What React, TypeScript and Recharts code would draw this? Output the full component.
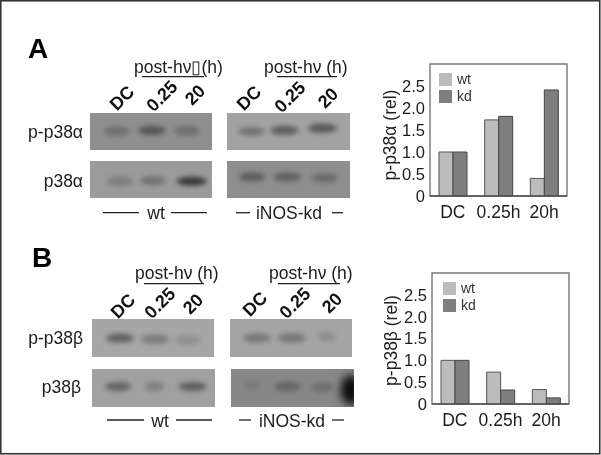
import React from "react";
import { BarChart, Bar, XAxis, YAxis, ReferenceArea, Legend, ScatterChart, Scatter } from "recharts";

const FONT = "'Liberation Sans', Arial, sans-serif";

// Bar chart data
const timepoints = ["DC", "0.25h", "20h"];
const alphaWt = [1, 1.73, 0.4];
const alphaKd = [1, 1.81, 2.41];
const betaWt = [1, 0.73, 0.33];
const betaKd = [1, 0.32, 0.14];
const yTicks = [0, 0.5, 1, 1.5, 2, 2.5];

// Blot data: lane reading, band level (0 top, 1 bottom of membrane), darkness
const lanesA1 = [0.97, 1.97, 2.97];
const levelsA1 = [0.49, 0.47, 0.48];
const darkA1 = [0.36, 0.62, 0.36];
const lanesA2 = [1.06, 2.0, 3.11];
const levelsA2 = [0.55, 0.53, 0.55];
const darkA2 = [0.3, 0.38, 0.95];
const lanesA3 = [0.89, 1.83, 2.91];
const levelsA3 = [0.5, 0.47, 0.41];
const darkA3 = [0.42, 0.62, 0.66];
const lanesA4 = [0.91, 1.91, 2.97];
const levelsA4 = [0.43, 0.43, 0.46];
const darkA4 = [0.52, 0.5, 0.4];
const lanesB1 = [1, 2, 2.94];
const levelsB1 = [0.5, 0.53, 0.56];
const darkB1 = [0.62, 0.38, 0.2];
const lanesB2 = [0.94, 1.97, 3.06];
const levelsB2 = [0.46, 0.46, 0.46];
const darkB2 = [0.55, 0.3, 0.6];
const lanesB3 = [0.97, 1.97, 2.97];
const levelsB3 = [0.5, 0.5, 0.47];
const darkB3 = [0.4, 0.42, 0.2];
const lanesB4 = [0.8, 1.8, 2.8, 3.6];
const levelsB4 = [0.42, 0.46, 0.48, 0.55];
const darkB4 = [0.15, 0.42, 0.3, 1.6];

const rows = (a: number[], b: number[]) => timepoints.map((t, i) => ({ t, wt: a[i], kd: b[i] }));
const bands = (l: number[], y: number[], d: number[]) => l.map((lane, i) => ({ lane, level: y[i], dark: d[i] }));

function Band(props: any) {
  const { cx, cy, payload, spreads, index } = props;
  const big = payload.dark > 1;
  const dark = Math.min(payload.dark, 1);
  return (
    <ellipse
      cx={cx}
      cy={cy}
      rx={spreads[index] ?? 14}
      ry={big ? 15 : 4.6}
      fill={big ? "#0c0c0c" : "#333"}
      opacity={dark}
      style={{ filter: `blur(${big ? 4 : 2.7}px)` }}
    />
  );
}

function Blot({ left, top, width, height, bg, data, spreads }: any) {
  return (
    <div style={{ position: "absolute", left, top, width, height, background: bg, overflow: "hidden" }}>
      <ScatterChart width={width} height={height} margin={{ top: 0, right: 0, bottom: 0, left: 0 }}>
        <XAxis type="number" dataKey="lane" domain={[0.2, 3.69]} hide allowDataOverflow />
        <YAxis type="number" dataKey="level" domain={[0, 1]} reversed hide />
        <Scatter
          data={data}
          isAnimationActive={false}
          shape={(p: any) => <Band {...p} spreads={spreads} />}
        />
      </ScatterChart>
    </div>
  );
}

function BarPanel({ left, top, yWidth, marginRight, marginTop, xHeight, data, label, labelX, labelDy, legendX, legendY, legendText }: any) {
  return (
    <div style={{ position: "absolute", left, top }}>
      <BarChart
        width={231}
        height={180}
        data={data}
        barGap={0}
        barSize={14}
        margin={{ top: marginTop, right: marginRight, bottom: 0, left: 0 }}
      >
        <ReferenceArea y1={0} y2={3} fill="none" stroke="#777" strokeWidth={1.4} ifOverflow="visible" />
        <XAxis
          dataKey="t"
          height={xHeight}
          tickLine={false}
          tickSize={0}
          tickMargin={10}
          axisLine={{ stroke: "#555", strokeWidth: 1.4 }}
          tick={{ fontSize: 17.5, fill: "#1c1c1c", fontFamily: FONT }}
          interval={0}
        />
        <YAxis
          width={yWidth}
          domain={[0, 3]}
          ticks={yTicks}
          interval={0}
          tickLine={false}
          tickSize={0}
          tickMargin={5}
          axisLine={false}
          tickFormatter={(v: number) => (v === 0 ? "0" : v.toFixed(1))}
          tick={{ fontSize: 16.5, fill: "#1c1c1c", fontFamily: FONT }}
          label={{
            content: ({ viewBox }: any) => {
              const y = viewBox.y + viewBox.height / 2 + labelDy;
              return (
                <text
                  transform={`rotate(-90 ${labelX} ${y})`}
                  x={labelX}
                  y={y}
                  textAnchor="middle"
                  dominantBaseline="central"
                  fontSize={17.5}
                  fill="#1c1c1c"
                  fontFamily={FONT}
                >
                  {label}
                </text>
              );
            },
          }}
        />
        <Legend
          layout="vertical"
          align="center"
          verticalAlign="middle"
          wrapperStyle={{ left: legendX, top: legendY, width: "auto", bottom: "auto", right: "auto" }}
          content={() => (
            <div style={{ fontFamily: FONT, fontSize: legendText, color: "#333", lineHeight: "13px" }}>
              {[
                ["wt", "#bcbcbc"],
                ["kd", "#7e7e7e"],
              ].map(([n, c]) => (
                <div key={n} style={{ display: "flex", alignItems: "center", height: 13, marginBottom: 3.5 }}>
                  <span style={{ display: "inline-block", width: 13, height: 13, background: c, marginRight: 5 }} />
                  {n}
                </div>
              ))}
            </div>
          )}
        />
        <Bar dataKey="wt" fill="#bcbcbc" stroke="#555" strokeWidth={1} isAnimationActive={false} />
        <Bar dataKey="kd" fill="#7e7e7e" stroke="#444" strokeWidth={1} isAnimationActive={false} />
      </BarChart>
    </div>
  );
}

const T = (p: any) => <text fontFamily={FONT} fill="#1c1c1c" {...p} />;
const Rot = ({ x, y, children }: any) => (
  <text
    transform={`rotate(-45 ${x} ${y})`}
    x={x}
    y={y}
    textAnchor="middle"
    dominantBaseline="central"
    fontFamily={FONT}
    fontWeight="bold"
    fontSize={18}
    fill="#111"
  >
    {children}
  </text>
);
const Ln = ({ x1, x2, y, w = 1.3 }: any) => <line x1={x1} x2={x2} y1={y} y2={y} stroke="#222" strokeWidth={w} />;

export default function App() {
  return (
    <div
      style={{
        position: "absolute",
        left: 0,
        top: 0,
        width: 601,
        height: 455,
        background: "#fff",
        overflow: "hidden",
        filter: "blur(0.45px)",
      }}
    >
      <Blot left={90} top={113} width={122} height={37} bg="#8f8f8f" data={bands(lanesA1, levelsA1, darkA1)} spreads={[13, 14, 13]} />
      <Blot left={90} top={161} width={122} height={37} bg="#9b9b9b" data={bands(lanesA2, levelsA2, darkA2)} spreads={[13, 13, 15]} />
      <Blot left={227} top={113} width={123} height={37} bg="#a2a2a2" data={bands(lanesA3, levelsA3, darkA3)} spreads={[13, 14, 15]} />
      <Blot left={227} top={161} width={123} height={37} bg="#8e8e8e" data={bands(lanesA4, levelsA4, darkA4)} spreads={[13, 14, 13]} />
      <Blot left={92} top={319} width={122} height={38} bg="#a6a6a6" data={bands(lanesB1, levelsB1, darkB1)} spreads={[14, 14, 13]} />
      <Blot left={92} top={369} width={123} height={38} bg="#a0a0a0" data={bands(lanesB2, levelsB2, darkB2)} spreads={[13, 10, 14]} />
      <Blot left={230} top={319} width={122} height={38} bg="#a4a4a4" data={bands(lanesB3, levelsB3, darkB3)} spreads={[14, 14, 9]} />
      <Blot left={231} top={369} width={123} height={38} bg="#878787" data={bands(lanesB4, levelsB4, darkB4)} spreads={[8, 13, 11, 10]} />

      <BarPanel left={370} top={50} yWidth={60} marginRight={34} marginTop={14} xHeight={34} data={rows(alphaWt, alphaKd)} label="p-p38α (rel)" labelX={20} labelDy={5} legendX={69} legendY={23} legendText={14} />
      <BarPanel left={370} top={260} yWidth={62} marginRight={32} marginTop={13} xHeight={36} data={rows(betaWt, betaKd)} label="p-p38β (rel)" labelX={21} labelDy={2} legendX={73} legendY={22} legendText={14} />

      <svg width={601} height={455} style={{ position: "absolute", left: 0, top: 0, pointerEvents: "none" }}>
        <rect x={0.75} y={0.75} width={599} height={453} fill="none" stroke="#333" strokeWidth={1.6} />

        <T x={28} y={58} fontSize={28} fontWeight="bold" fill="#000">A</T>
        <T x={32} y={267} fontSize={28} fontWeight="bold" fill="#000">B</T>

        <T x={134} y={73} fontSize={17.5}>post-hν▯(h)</T>
        <T x={264} y={73} fontSize={17.5}>post-hν (h)</T>
        <Ln x1={142} x2={204} y={76.7} />
        <Ln x1={277} x2={337} y={76.7} />
        <T x={135} y={279} fontSize={17.5}>post-hν (h)</T>
        <T x={269} y={279} fontSize={17.5}>post-hν (h)</T>
        <Ln x1={144} x2={204} y={283.7} />
        <Ln x1={278} x2={340} y={283.7} />

        <Rot x={122} y={98}>DC</Rot>
        <Rot x={162} y={96}>0.25</Rot>
        <Rot x={195} y={95}>20</Rot>
        <Rot x={249} y={98}>DC</Rot>
        <Rot x={290} y={97}>0.25</Rot>
        <Rot x={328} y={98}>20</Rot>
        <Rot x={123} y={306}>DC</Rot>
        <Rot x={160} y={303}>0.25</Rot>
        <Rot x={193} y={304}>20</Rot>
        <Rot x={255} y={304}>DC</Rot>
        <Rot x={295} y={303}>0.25</Rot>
        <Rot x={332} y={303}>20</Rot>

        <T x={83} y={138} textAnchor="end" fontSize={17.5}>p-p38α</T>
        <T x={83} y={187} textAnchor="end" fontSize={17.5}>p38α</T>
        <T x={83} y={344} textAnchor="end" fontSize={17.5}>p-p38β</T>
        <T x={81} y={393} textAnchor="end" fontSize={17.5}>p38β</T>

        <T x={156} y={219} textAnchor="middle" fontSize={17.5}>wt</T>
        <Ln x1={103} x2={139} y={212.7} />
        <Ln x1={171} x2={207} y={212.7} />
        <T x={289} y={219} textAnchor="middle" fontSize={17.5}>iNOS-kd</T>
        <Ln x1={236} x2={250} y={212.7} />
        <Ln x1={332} x2={343} y={212.7} />

        <T x={160} y={427} textAnchor="middle" fontSize={17.5}>wt</T>
        <Ln x1={107} x2={144} y={420} />
        <Ln x1={176} x2={212} y={420} />
        <T x={292} y={427} textAnchor="middle" fontSize={17.5}>iNOS-kd</T>
        <Ln x1={239} x2={251} y={420} />
        <Ln x1={332} x2={344} y={420} />
      </svg>
    </div>
  );
}
